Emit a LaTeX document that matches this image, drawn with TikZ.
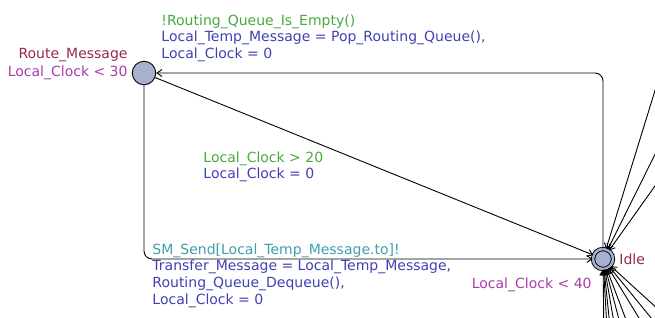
\documentclass[tikz,border=0pt]{standalone}
\usepackage{fontspec}
\setmainfont{DejaVu Sans}
\usetikzlibrary{arrows.meta,automata}

\definecolor{locname}{RGB}{150,40,80}
\definecolor{invar}{RGB}{170,60,170}
\definecolor{guard}{RGB}{70,170,60}
\definecolor{sync}{RGB}{60,160,170}
\definecolor{assign}{RGB}{64,64,180}
\definecolor{locfill}{RGB}{168,176,208}

\begin{document}
\begin{tikzpicture}[x=1pt,y=-1pt,line width=0.9pt,>={Straight Barb[length=5pt,width=7pt]},
  every state/.style={draw,fill=locfill,minimum size=0pt,inner sep=0pt,line width=0.9pt},
  lbl/.style={inner sep=0pt,align=left,font=\fontsize{14}{16.8}\selectfont}]
  \useasboundingbox (0,0) rectangle (655,317);
  \clip (0,0) rectangle (655,317);

  \node[state,minimum size=23.5pt]                                  (route) at (144,73)  {};
  \node[state,minimum size=20pt,double=locfill,double distance=2.5pt] (idle) at (603,259) {};

  \node[lbl,anchor=east,text=locname] (routename) at (128,55) {Route\_Message};
  \node[lbl,anchor=east,text=invar]   (routeinv)  at (128,73) {Local\_Clock < 30};
  \node[lbl,anchor=west,text=locname] (idlename)  at (619,259) {Idle};
  \node[lbl,anchor=east,text=invar]   (idleinv)   at (592,285) {Local\_Clock < 40};

  % back to Route_Message
  \draw[->,rounded corners=8pt] (idle) |- (route);
  \node[lbl,anchor=north west] (pop) at (161,14) {\color{guard}!Routing\_Queue\_Is\_Empty()\\
    \color{assign}Local\_Temp\_Message = Pop\_Routing\_Queue(),\\
    \color{assign}Local\_Clock = 0};

  % timeout
  \draw[->] (route) -- (idle);
  \node[lbl,anchor=north west] (timeout) at (203,151) {\color{guard}Local\_Clock > 20\\
    \color{assign}Local\_Clock = 0};

  % send
  \draw[->,rounded corners=8pt] (route) |- (idle);
  \node[lbl,anchor=north west] (send) at (152,243) {\color{sync}SM\_Send[Local\_Temp\_Message.to]!\\
    \color{assign}Transfer\_Message = Local\_Temp\_Message,\\
    \color{assign}Routing\_Queue\_Dequeue(),\\
    \color{assign}Local\_Clock = 0};

  % edges from the rest of the template
  \foreach \x/\y [count=\i] in {682/3,682/100,682/148,604/346,608/346,612/346,618/346,
      626/346,636/346,656/346,674/346,682/331}{
    \coordinate (ext\i) at (\x,\y);
    \draw[->] (ext\i) -- (idle);
  }
\end{tikzpicture}
\end{document}
